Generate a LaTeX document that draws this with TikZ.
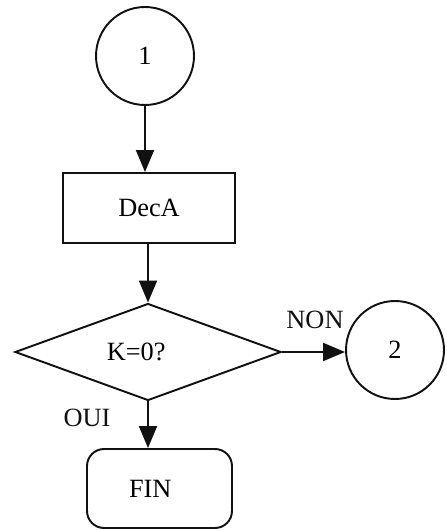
\documentclass[tikz,border=0pt]{standalone}
\usepackage{fontspec}
\setmainfont{Liberation Serif}
\usetikzlibrary{arrows.meta, shapes.geometric}
\definecolor{cink}{HTML}{111111}
\tikzset{
  every picture/.style={line width=1.1pt},
  conn/.style={draw=cink, fill=white, circle, minimum size=1.96cm, inner sep=0pt},
  proc/.style={draw=cink, fill=white, rectangle, minimum width=3.44cm, minimum height=1.4cm},
  test/.style={draw=cink, fill=white, diamond, minimum width=5.32cm, minimum height=1.94cm, inner sep=0pt},
  term/.style={draw=cink, fill=white, rounded corners=0.34cm, minimum width=2.9cm, minimum height=1.58cm},
  flow/.style={-{Triangle[length=0.44cm, width=0.36cm]}, draw=cink},
  tag/.style={text=cink},
}

\begin{document}
\begin{tikzpicture}[x=0.02cm, y=-0.02cm, every node/.append style={font=\fontsize{15}{17}\selectfont}]
  \useasboundingbox (0,0) rectangle (446,530);
  % the nodes, in px from the top left corner
  \node[conn] (c1) at (145,56) {1};
  \node[proc] (deca) at (149,208) {DecA};
  \node[test] (k0) at (148,352) {\hspace*{-0.9em}K=0?};
  \node[conn] (c2) at (395,350) {2};
  \node[term] (fin) at (159.5,488.5) {\hspace*{-0.7em}FIN};
  \node[tag] (non) at (315,320) {NON};
  \node[tag] (oui) at (87,418) {OUI};
  % arrows
  \draw[flow] (c1.south) -- (c1.south |- deca.north);
  \draw[flow] (deca.south -| k0.north) -- (k0.north);
  \draw[flow] (k0.east) -- (k0.east -| c2.west);
  \draw[flow] (k0.south) -- (k0.south |- fin.north);
\end{tikzpicture}
\end{document}
